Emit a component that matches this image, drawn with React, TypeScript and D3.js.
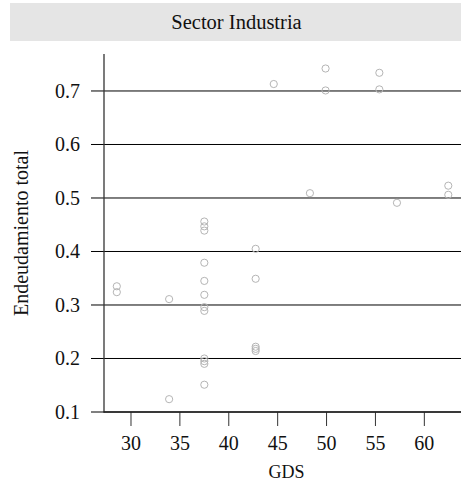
import React from "react";
import * as d3 from "d3";

// GDS (x) and total indebtedness (y) per firm, industrial sector
const gds = [
  28.55, 28.55, 33.9, 33.9,
  37.5, 37.5, 37.5, 37.5, 37.5, 37.5, 37.5, 37.5, 37.5, 37.5, 37.5, 37.5,
  42.75, 42.75, 42.75, 42.75, 42.75,
  44.6, 48.3, 49.9, 49.9, 55.4, 55.4, 57.2, 62.45, 62.45,
];
const endeudamiento = [
  0.335, 0.324, 0.311, 0.124,
  0.456, 0.447, 0.439, 0.379, 0.345, 0.319, 0.296, 0.289, 0.2, 0.195, 0.19, 0.151,
  0.405, 0.349, 0.222, 0.218, 0.214,
  0.713, 0.509, 0.742, 0.701, 0.734, 0.703, 0.491, 0.523, 0.506,
];
const xTicks = [30, 35, 40, 45, 50, 55, 60];
const yTicks = [0.1, 0.2, 0.3, 0.4, 0.5, 0.6, 0.7];

const W = 461;
const H = 485;
const FONT = "'Liberation Serif', 'DejaVu Serif', serif";

export default function App() {
  const x = d3.scaleLinear().domain([27.24, 63.75]).range([104, 461]);
  const y = d3.scaleLinear().domain([0.1, 0.768]).range([412, 54.6]);
  const fmt = d3.format(".1f");

  return (
    <svg
      width={W}
      height={H}
      style={{ position: "absolute", left: 0, top: 0, background: "#fff" }}
      fontFamily={FONT}
    >
      {/* strip header */}
      <rect x={10} y={3} width={W - 10} height={38} fill="#e5e5e5" />
      <text x={(10 + W) / 2 + 1} y={28.5} textAnchor="middle" fontSize={20.5} fill="#111">
        Sector Industria
      </text>

      {/* horizontal gridlines with y ticks */}
      {yTicks.map((t) => (
        <g key={t}>
          <line x1={91} x2={W} y1={y(t)} y2={y(t)} stroke="#000" strokeWidth={1} />
          <text
            x={80}
            y={y(t)}
            dy="0.35em"
            textAnchor="end"
            fontSize={20}
            fill="#111"
          >
            {fmt(t)}
          </text>
        </g>
      ))}

      {/* x ticks */}
      {xTicks.map((t) => (
        <g key={t}>
          <line x1={x(t)} x2={x(t)} y1={412} y2={426} stroke="#333" strokeWidth={1} />
          <text x={x(t)} y={450} textAnchor="middle" fontSize={20} fill="#111">
            {t}
          </text>
        </g>
      ))}

      {/* axis lines */}
      <line x1={104} x2={104} y1={54} y2={412.5} stroke="#333" strokeWidth={1.3} />
      <line x1={103.5} x2={W} y1={412} y2={412} stroke="#222" strokeWidth={1.5} />

      {/* points */}
      {gds.map((g, i) => (
        <circle
          key={i}
          cx={x(g)}
          cy={y(endeudamiento[i])}
          r={3.6}
          fill="none"
          stroke="#b5b5b5"
          strokeWidth={1}
        />
      ))}

      {/* axis titles */}
      <text x={286.5} y={477.5} textAnchor="middle" fontSize={18} fill="#111">
        GDS
      </text>
      <text
        transform={`translate(28,233) rotate(-90)`}
        textAnchor="middle"
        fontSize={20}
        fill="#111"
      >
        Endeudamiento total
      </text>
    </svg>
  );
}
